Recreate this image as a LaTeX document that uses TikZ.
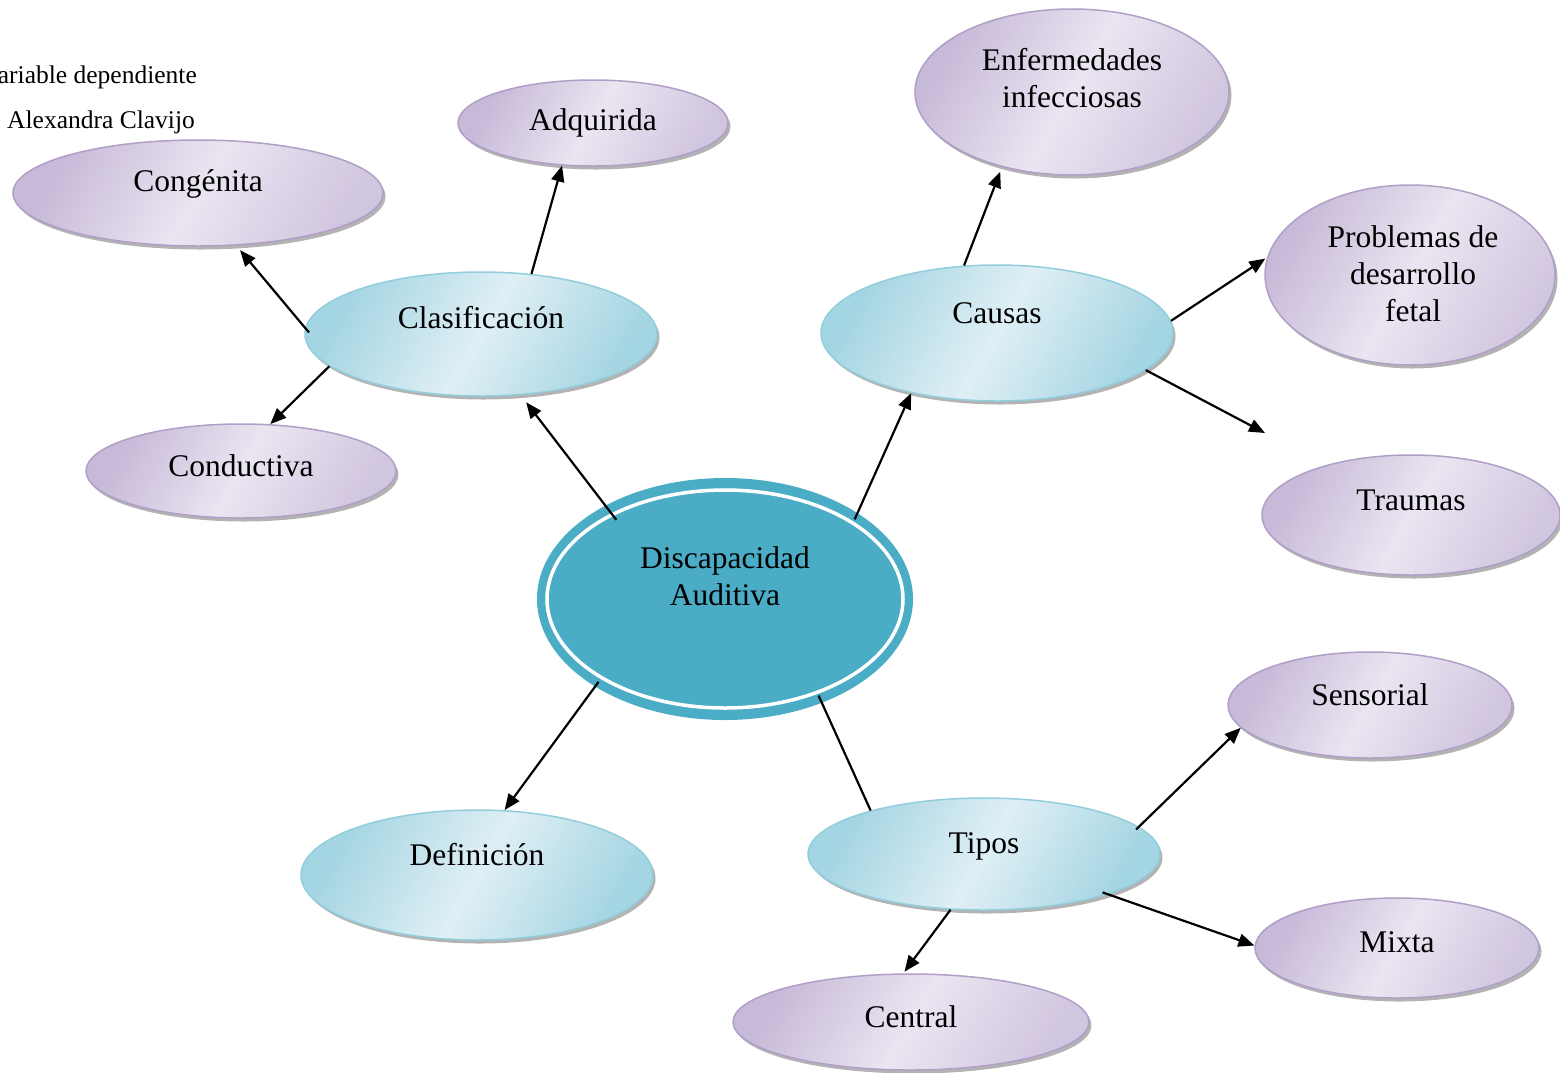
\documentclass[tikz,border=0pt]{standalone}
\usepackage{fontspec}
\setmainfont{Liberation Serif}
\usetikzlibrary{shapes.geometric, arrows.meta, positioning, calc, shadows}

\definecolor{ringteal}{HTML}{4BACC6}
\definecolor{blueedge}{HTML}{92CDDC}
\definecolor{bluedark}{HTML}{A4D5E2}
\definecolor{bluelight}{HTML}{DFEFF5}
\definecolor{lilacedge}{HTML}{B09FC6}
\definecolor{lilacdark}{HTML}{C7B9D8}
\definecolor{lilaclight}{HTML}{EAE5F1}

\tikzset{
  bubble/.style={ellipse, inner sep=0pt, line width=1.5pt,
    drop shadow={shadow xshift=2.5pt, shadow yshift=-3.5pt, fill=black!50, opacity=0.6}},
  bluebub/.style={bubble, draw=blueedge, left color=bluedark, right color=bluedark, middle color=bluelight, shading angle=60},
  lilacbub/.style={bubble, draw=lilacedge, left color=lilacdark, right color=lilacdark!70!lilaclight, middle color=lilaclight, shading angle=60},
  txt/.style={font=\fontsize{31.5}{37}\selectfont, align=center, inner sep=0pt},
  note/.style={font=\fontsize{25.5}{30}\selectfont, inner sep=0pt},
  link/.style={line width=2.2pt},
  arr/.style={link, -{Triangle[length=16pt,width=13pt]}},
}

\begin{document}
\begin{tikzpicture}[x=1pt, y=-1pt]
  \useasboundingbox (0,0) rectangle (1560,1072);

  % notes in the corner
  \node[note, anchor=base east] (var) at (197,83) {ariable dependiente};
  \node[note, anchor=base west] (autor) at (7,128) {Alexandra Clavijo};

  % centre
  \node[ellipse, fill=ringteal, inner sep=0pt, minimum width=376pt, minimum height=242pt] (disc) at (725,599) {};
  \draw[white, line width=3.5pt] (disc.center) ellipse [x radius=178pt, y radius=109pt];
  \node[txt] (disc-t) at (725,576) {Discapacidad\\Auditiva};

  % first level
  \node[bluebub, minimum width=352pt, minimum height=124pt] (clasif) at (481,334) {};
  \node[txt, anchor=base] (clasif-t) at (481,328) {Clasificación};
  \node[bluebub, minimum width=352pt, minimum height=136pt] (causas) at (997,333) {};
  \node[txt, anchor=base] (causas-t) at (997,323) {Causas};
  \node[bluebub, minimum width=352pt, minimum height=130pt] (defin) at (477,875) {};
  \node[txt, anchor=base] (defin-t) at (477,865) {Definición};
  \node[bluebub, minimum width=352pt, minimum height=112pt] (tipos) at (984,854) {};
  \node[txt, anchor=base] (tipos-t) at (984,853) {Tipos};

  % second level
  \node[lilacbub, minimum width=370pt, minimum height=106pt] (congen) at (198,193) {};
  \node[txt, anchor=base] (congen-t) at (198,191) {Congénita};
  \node[lilacbub, minimum width=270pt, minimum height=86pt] (adquir) at (593,123) {};
  \node[txt, anchor=base] (adquir-t) at (593,130) {Adquirida};
  \node[lilacbub, minimum width=310pt, minimum height=94pt] (conduc) at (241,471) {};
  \node[txt, anchor=base] (conduc-t) at (241,476) {Conductiva};
  \node[lilacbub, minimum width=314pt, minimum height=166pt] (enferm) at (1072,92) {};
  \node[txt] (enferm-t) at (1072,78) {Enfermedades\\infecciosas};
  \node[lilacbub, minimum width=290pt, minimum height=180pt] (fetal) at (1410,275) {};
  \node[txt] (fetal-t) at (1413,274) {Problemas de\\desarrollo\\fetal};
  \node[lilacbub, minimum width=298pt, minimum height=120pt] (trauma) at (1411,515) {};
  \node[txt, anchor=base] (trauma-t) at (1411,510) {Traumas};
  \node[lilacbub, minimum width=284pt, minimum height=106pt] (sensor) at (1370,705) {};
  \node[txt, anchor=base] (sensor-t) at (1370,705) {Sensorial};
  \node[lilacbub, minimum width=284pt, minimum height=100pt] (mixta) at (1397,948) {};
  \node[txt, anchor=base] (mixta-t) at (1397,952) {Mixta};
  \node[lilacbub, minimum width=356pt, minimum height=96pt] (central) at (911,1022) {};
  \node[txt, anchor=base] (central-t) at (911,1027) {Central};

  \coordinate (trauma-end) at (1265,433);

  % connectors
  \draw[arr, shorten <=-18pt, shorten >=9pt] (disc.142) -- (clasif.-57);
  \draw[arr, shorten <=-7pt] (disc.33) -- (causas.215);
  \draw[arr, shorten <=-6pt] (disc.214) -- (defin.67);
  \draw[link, shorten <=-8pt] (disc.-47) -- (tipos.159);

  \draw[arr, shorten <=-6pt, shorten >=6pt] (clasif.178) -- (congen.-54);
  \draw[arr] (clasif.50) -- (adquir.234);
  \draw[arr] (clasif.192) -- (conduc.58);

  \draw[arr, shorten >=5pt] (causas.116) -- (enferm.227);
  \draw[arr, shorten >=2pt] (causas.4) -- (fetal.173);
  \draw[arr] (causas.-14) -- (trauma-end);

  \draw[arr, shorten <=-4pt] (tipos.10) -- (sensor.190);
  \draw[arr, shorten <=-6pt] (tipos.-18) -- (mixta.179);
  \draw[arr, shorten >=2pt] (tipos.239) -- (central.99);
\end{tikzpicture}
\end{document}
